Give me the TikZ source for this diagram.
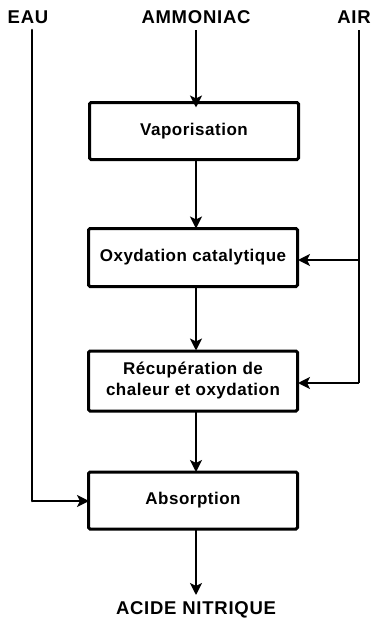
\documentclass[tikz,border=0pt]{standalone}
\usepackage{fontspec}
\setmainfont{Liberation Sans}
\usetikzlibrary{arrows.meta}
\tikzset{
  x=1pt, y=-1pt,
  stage/.style={draw, line width=3pt, rounded corners=1.5pt, minimum width=209pt,
    minimum height=57pt, align=center, inner sep=0pt,
    font=\fontsize{17}{21}\selectfont\bfseries\addfontfeature{LetterSpace=3}},
  feed/.style={inner sep=0pt,
    font=\fontsize{18.5}{20}\selectfont\bfseries\addfontfeature{LetterSpace=4}},
  flow/.style={line width=2.6pt, -{Stealth[length=12pt,width=12pt,inset=3pt]}},
  pipe/.style={line width=2.6pt}
}
\begin{document}
\begin{tikzpicture}
\useasboundingbox (0,0) rectangle (373,621);
% inputs
\node[feed] (eau) at (28,17) {EAU};
\node[feed] (amm) at (196,17) {AMMONIAC};
\node[feed] (air) at (354,17) {AIR};
% process stages
\node[stage] (vap) at (194,131) {Vaporisation};
\node[stage, minimum height=58pt] (oxy) at (193,257.5) {Oxydation catalytique};
\node[stage, minimum height=60pt] (rec) at (193,381) {Récupération de\\chaleur et oxydation};
\node[stage] (abs) at (193,500.5) {Absorption};
\node[feed] (acide) at (196,610) {ACIDE NITRIQUE};
% pipe corners
\coordinate (eauTop) at (32,30);
\coordinate (eauBend) at (32,501);
\coordinate (airTop) at (359,30);
\coordinate (airOxy) at (359,260);
\coordinate (airRec) at (359,383);
% main line
\draw[flow] (196,30) -- (196,107.5);
\draw[flow] (196,159.5) -- (196,228.5);
\draw[flow] (196,286.5) -- (196,350.5);
\draw[flow] (196,411) -- (196,472);
\draw[flow] (196,529) -- (196,595);
% water feed
\draw[pipe, line cap=round] (eauTop) -- (eauBend);
\draw[flow] (eauBend) -- (89,501);
% air feed
\draw[pipe] (airTop) -- (airRec);
\draw[flow] (airOxy) -- (298,260);
\draw[flow] (airRec) -- (298,383);
\end{tikzpicture}
\end{document}
